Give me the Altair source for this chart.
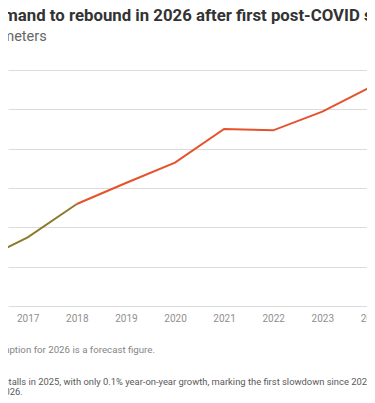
import altair as alt
import pandas as pd

# ---- data ----
years = [2016, 2017, 2018, 2019, 2020, 2021, 2022, 2023, 2024, 2025, 2026]
demand = [206.4, 237.3, 279.7, 306.4, 332.2, 375.0, 373.3, 397.0, 428.8, 429.2, 446.0]
early_years = [2016, 2017, 2018]
tick_years = [2017, 2018, 2019, 2020, 2021, 2022, 2023, 2024]
grid_values = [150, 200, 250, 300, 350, 400, 450]
segment_names = ["2016-2018", "2018-2026"]
segment_colors = ["#8c7b2e", "#e4532b"]

title_text = "China's gas demand to rebound in 2026 after first post-COVID stall"
subtitle_text = "Billion cubic meters"
note_text = "Note: Natural gas consumption for 2026 is a forecast figure."
summary_line1 = "China's natural gas demand stalls in 2025, with only 0.1% year-on-year growth, marking the first slowdown since 2022"
summary_line2 = "Demand is expected to rebound in 2026."

rows = []
for y, v in zip(years, demand):
    if y in early_years:
        rows.append({"year": y, "demand": v, "segment": segment_names[0]})
    if y >= early_years[-1]:
        rows.append({"year": y, "demand": v, "segment": segment_names[1]})
df = pd.DataFrame(rows)

FONT = "Roboto"
W, H = 367, 236

line = alt.Chart(df).mark_line(strokeWidth=2, clip=True).encode(
    x=alt.X("year:Q",
            scale=alt.Scale(domain=[2016.599, 2024.073], nice=False, zero=False),
            axis=alt.Axis(values=tick_years, format="d", title=None, domain=False,
                          ticks=False, grid=False, labelFont=FONT,
                          labelFontSize=10, labelColor="#8f8f8f", labelPadding=7,
                          labelOverlap=False, labelBound=False, labelFlush=False)),
    y=alt.Y("demand:Q",
            scale=alt.Scale(domain=[150, 450], nice=False, zero=False),
            axis=alt.Axis(values=grid_values, title=None, domain=False, ticks=False,
                          grid=True, gridColor="#dcdcdc", gridWidth=1,
                          labelFont=FONT, labelColor="#8f8f8f")),
    color=alt.Color("segment:N",
                    scale=alt.Scale(domain=segment_names, range=segment_colors),
                    legend=None),
)


def label(text, x, y, **kw):
    return alt.Chart(pd.DataFrame({"t": [text]})).mark_text(baseline="alphabetic", **kw).encode(
        x=alt.value(x), y=alt.value(y), text="t:N")


title = label(title_text, -112.3, -49.4, align="left", font=FONT, fontWeight="bold",
              fontSize=16.8, color="#333333")
subtitle = label(subtitle_text, 38.7, -29.5, align="right", font=FONT,
                 fontSize=14.5, color="#666666")
note = label(note_text, 147, 282.5, align="right", font=FONT,
             fontSize=9.7, color="#858585")
sum1 = label(summary_line1, 364.3, 315.3, align="right", font=FONT,
             fontSize=9.4, color="#595959")
sum2 = label(summary_line2, 14.7, 325, align="right", font=FONT,
             fontSize=9.4, color="#595959")

chart = alt.layer(line, title, subtitle, note, sum1, sum2).properties(
    width=W, height=H,
    autosize=alt.AutoSizeParams(type="none"),
    padding={"left": 0, "top": 62, "right": -8, "bottom": 89},
    background="white",
).configure_view(stroke=None)

chart.save("out.html", embed_options={"renderer": "svg", "actions": False})
